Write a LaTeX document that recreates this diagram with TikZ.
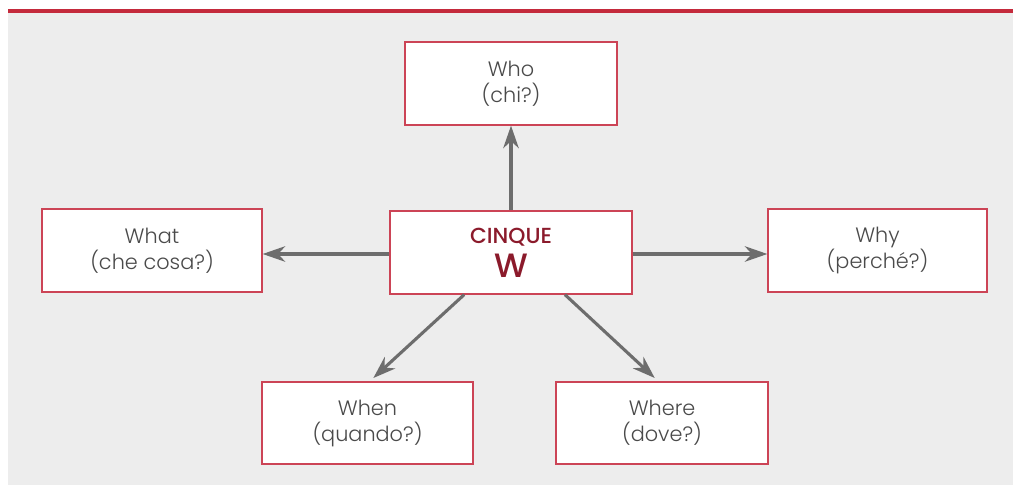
\documentclass[tikz,border=0pt]{standalone}
\usepackage{fontspec}
\setmainfont{Poppins}[UprightFont={* Light}, BoldFont={* Medium}]
\usetikzlibrary{arrows.meta}
\definecolor{bandred}{HTML}{C42A3C}
\definecolor{boxred}{HTML}{CC4456}
\definecolor{titlered}{HTML}{8B1A2B}
\definecolor{panelgray}{HTML}{EDEDED}
\definecolor{arrowgray}{HTML}{6D6D6D}
\definecolor{textgray}{HTML}{4A4A4A}

\begin{document}
\begin{tikzpicture}[x=0.025cm, y=-0.025cm,
  wbox/.style={draw=boxred, line width=0.9pt, fill=white, align=center, inner sep=0pt,
    text=textgray, font=\fontsize{14.8}{18.5}\selectfont},
  warrow/.style={draw=arrowgray, line width=2.2pt, -{Stealth[length=16pt, width=11pt, inset=5pt]}}]
\useasboundingbox (0,0) rectangle (1013,485);
\fill [panelgray] (8,12) rectangle (1013,485);
\draw [bandred, line width=2.2pt] (8,11) -- (1013,11);
\node [wbox, minimum width=5.3cm, minimum height=2.075cm] (who) at (511,83.5) {Who\\(chi?)};
\node [wbox, minimum width=5.5cm, minimum height=2.075cm] (what) at (152,250.5) {What\\(che cosa?)};
\node [wbox, minimum width=6.05cm, minimum height=2.075cm, text=titlered,
  font=\fontsize{15.5}{24}\selectfont] (core) at (511,252.5)
  {\textbf{CINQUE}\\{\fontsize{24}{24}\selectfont\textbf{W}}};
\node [wbox, minimum width=5.475cm, minimum height=2.075cm] (why) at (877.5,250.5) {Why\\(perché?)};
\node [wbox, minimum width=5.275cm, minimum height=2.05cm] (when) at (367.5,423) {When\\(quando?)};
\node [wbox, minimum width=5.3cm, minimum height=2.05cm] (where) at (662,423) {Where\\(dove?)};
\draw [warrow] (core.west |- 0,254) -- (what.east |- 0,254);
\draw [warrow] (core.east |- 0,254) -- (why.west |- 0,254);
\draw [warrow] (core) -- (who);
\draw [warrow, shorten >=3.5pt] (core.222) -- (when.87);
\draw [warrow, shorten >=3.5pt] (core.322) -- (where.95);
\end{tikzpicture}
\end{document}
